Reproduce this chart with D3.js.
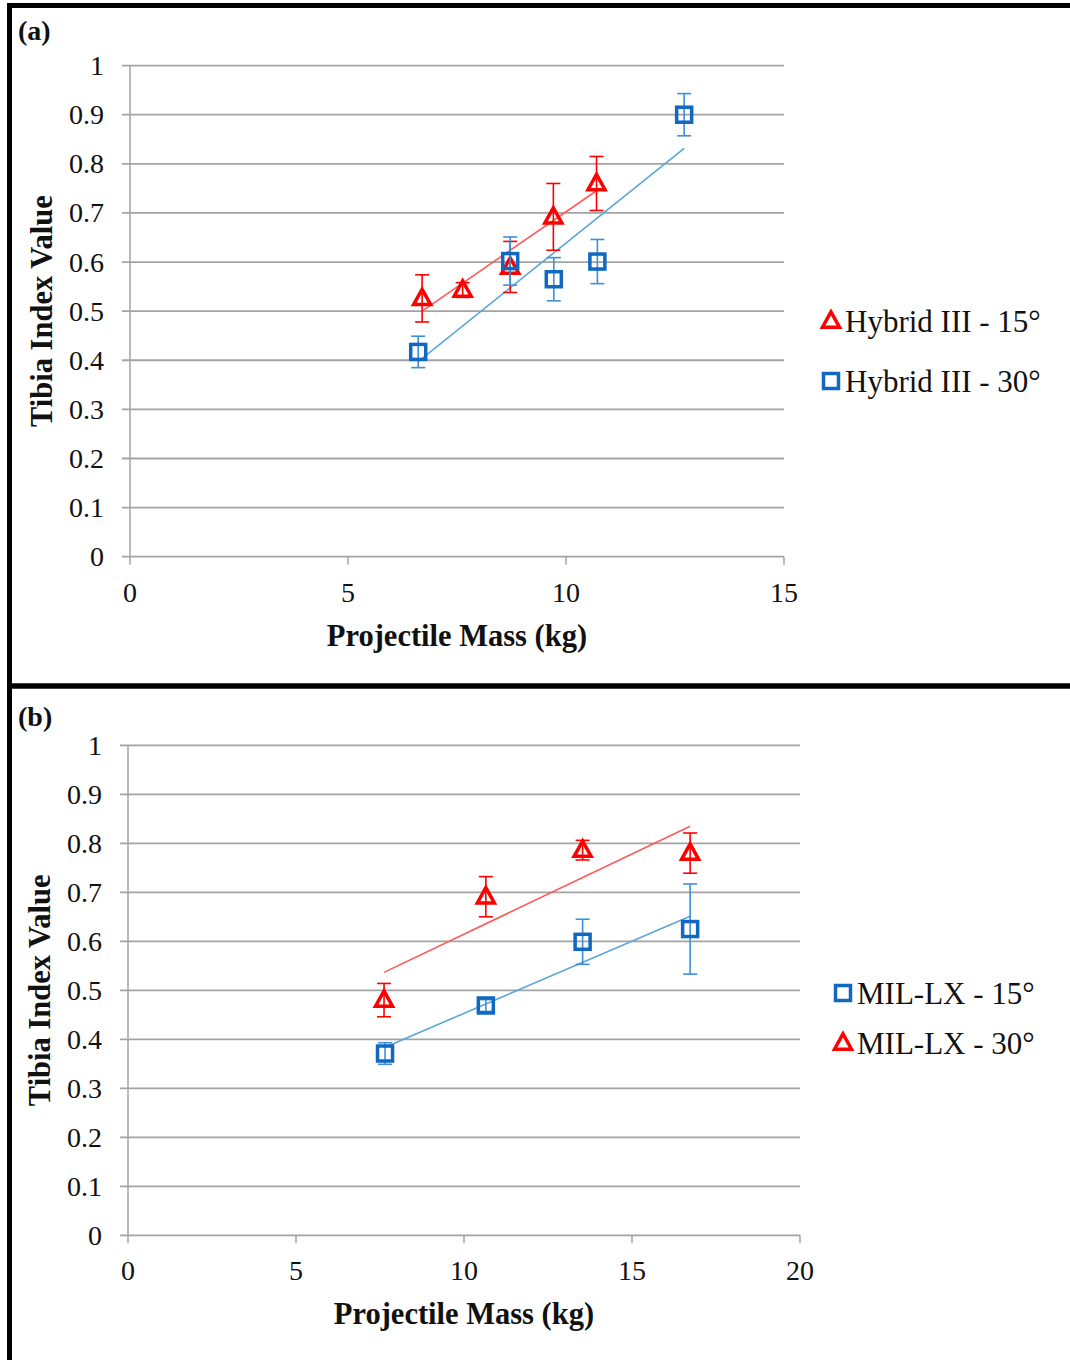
<!DOCTYPE html>
<html>
<head>
<meta charset="utf-8">
<script src="https://cdn.jsdelivr.net/npm/d3@7"></script>
<style>
  body { margin: 0; background: #fff; }
  svg { display: block; }
  text { font-family: "Liberation Serif", "Times New Roman", serif; fill: #111; }
</style>
</head>
<body>
<svg id="chart" width="1070" height="1360"></svg>
<script>
// Panel (a): Hybrid III leg
const massHybrid15 = [6.70, 7.63, 8.72, 9.71, 10.70];
const tibiaHybrid15 = [0.526, 0.543, 0.590, 0.692, 0.760];
const errHybrid15 = [0.048, 0.015, 0.052, 0.068, 0.055];

const massHybrid30 = [6.61, 8.72, 9.72, 10.72, 12.71];
const tibiaHybrid30 = [0.417, 0.602, 0.565, 0.601, 0.900];
const errHybrid30 = [0.032, 0.049, 0.044, 0.045, 0.043];

// Panel (b): MIL-LX leg
const massMil15 = [7.65, 10.65, 13.53, 16.73];
const tibiaMil15 = [0.371, 0.469, 0.599, 0.625];
const errMil15 = [0.022, 0.012, 0.046, 0.092];

const massMil30 = [7.62, 10.65, 13.53, 16.73];
const tibiaMil30 = [0.480, 0.691, 0.786, 0.780];
const errMil30 = [0.034, 0.041, 0.020, 0.041];

const yTicks = [0, 0.1, 0.2, 0.3, 0.4, 0.5, 0.6, 0.7, 0.8, 0.9, 1];
const xTicksA = [0, 5, 10, 15];
const xTicksB = [0, 5, 10, 15, 20];

const legendA = ["Hybrid III - 15°", "Hybrid III - 30°"];
const legendB = ["MIL-LX - 15°", "MIL-LX - 30°"];

const RED = "#ff0000", RED_TREND = "#ff5a5a";
const BLUE = "#1068c0", BLUE_ERR = "#3d8fd6", BLUE_TREND = "#5aa6dc";

const svg = d3.select("#chart");

// outer frame and divider between the two panels
svg.append("rect").attr("x", 9.5).attr("y", 5.5).attr("width", 1100).attr("height", 1400)
  .attr("fill", "none").attr("stroke", "#000").attr("stroke-width", 5);
svg.append("line").attr("x1", 9).attr("x2", 1070).attr("y1", 686).attr("y2", 686)
  .attr("stroke", "#000").attr("stroke-width", 5.5);

function zip(xs, ys, es) { return xs.map((x, i) => ({ x, y: ys[i], e: es[i] })); }

// least-squares trend line over the range of the series
function linearFit(pts) {
  const mx = d3.mean(pts, d => d.x), my = d3.mean(pts, d => d.y);
  const sxy = d3.sum(pts, d => (d.x - mx) * (d.y - my));
  const sxx = d3.sum(pts, d => (d.x - mx) ** 2);
  const b = sxy / sxx, a = my - b * mx;
  const [x0, x1] = d3.extent(pts, d => d.x);
  return [{ x: x0, y: a + b * x0 }, { x: x1, y: a + b * x1 }];
}

function drawMarker(g, shape, cx, cy, color) {
  if (shape === "square") {
    g.append("rect").attr("x", cx - 7.5).attr("y", cy - 7.5).attr("width", 15).attr("height", 15)
      .attr("fill", "none").attr("stroke", color).attr("stroke-width", 3.5);
  } else {
    const s = 17, h = s * Math.sqrt(3) / 2;
    g.append("path")
      .attr("d", `M${cx},${cy - h * 0.62}L${cx + s / 2},${cy + h * 0.42}L${cx - s / 2},${cy + h * 0.42}Z`)
      .attr("fill", "none").attr("stroke", color).attr("stroke-width", 3.5).attr("stroke-linejoin", "miter");
  }
}

function panel(cfg) {
  const x = d3.scaleLinear().domain(cfg.xDomain).range([cfg.left, cfg.right]);
  const y = d3.scaleLinear().domain([0, 1]).range([cfg.bottom, cfg.top]);
  const g = svg.append("g");

  // horizontal gridlines
  g.append("g").selectAll("line").data(yTicks).join("line")
    .attr("x1", cfg.left - 8).attr("x2", cfg.right)
    .attr("y1", d => y(d)).attr("y2", d => y(d))
    .attr("stroke", "#a3a3a3").attr("stroke-width", 1.8);

  // y axis line
  g.append("line").attr("x1", cfg.left).attr("x2", cfg.left)
    .attr("y1", cfg.top).attr("y2", cfg.bottom)
    .attr("stroke", "#a3a3a3").attr("stroke-width", 1.5);

  // x tick marks
  g.append("g").selectAll("line").data(cfg.xTicks).join("line")
    .attr("x1", d => x(d)).attr("x2", d => x(d))
    .attr("y1", cfg.bottom).attr("y2", cfg.bottom + 8)
    .attr("stroke", "#a3a3a3").attr("stroke-width", 1.5);

  // tick labels
  g.append("g").selectAll("text").data(yTicks).join("text")
    .attr("x", cfg.left - 26).attr("y", d => y(d)).attr("dy", "0.34em")
    .attr("text-anchor", "end").attr("font-size", 28)
    .text(d3.format("~g"));
  g.append("g").selectAll("text").data(cfg.xTicks).join("text")
    .attr("x", d => x(d)).attr("y", cfg.bottom + 45)
    .attr("text-anchor", "middle").attr("font-size", 28)
    .text(d => d);

  // axis titles
  g.append("text").attr("x", (cfg.left + cfg.right) / 2 + cfg.xTitleShift).attr("y", cfg.bottom + 89)
    .attr("text-anchor", "middle").attr("font-size", 30.5).attr("font-weight", "bold")
    .text("Projectile Mass (kg)");
  g.append("text")
    .attr("transform", `translate(${cfg.yTitleX},${(cfg.top + cfg.bottom) / 2}) rotate(-90)`)
    .attr("text-anchor", "middle").attr("font-size", 30.5).attr("font-weight", "bold")
    .text("Tibia Index Value");

  // panel letter
  g.append("text").attr("x", 18).attr("y", cfg.letterY)
    .attr("font-size", 28).attr("font-weight", "bold").attr("fill", "#1a1a3a")
    .text(cfg.letter);

  const line = d3.line().x(d => x(d.x)).y(d => y(d.y));

  cfg.series.forEach(s => {
    const pts = zip(s.mass, s.tibia, s.err);
    g.append("path").datum(linearFit(pts)).attr("d", line)
      .attr("fill", "none").attr("stroke", s.trend).attr("stroke-width", 1.6);
  });

  cfg.series.forEach(s => {
    const pts = zip(s.mass, s.tibia, s.err);
    const eg = g.append("g").attr("stroke", s.errColor).attr("stroke-width", 1.6);
    pts.forEach(p => {
      const px = x(p.x);
      eg.append("line").attr("x1", px).attr("x2", px).attr("y1", y(p.y - p.e)).attr("y2", y(p.y + p.e));
      eg.append("line").attr("x1", px - 7).attr("x2", px + 7).attr("y1", y(p.y - p.e)).attr("y2", y(p.y - p.e));
      eg.append("line").attr("x1", px - 7).attr("x2", px + 7).attr("y1", y(p.y + p.e)).attr("y2", y(p.y + p.e));
    });
    pts.forEach(p => drawMarker(g, s.shape, x(p.x), y(p.y), s.color));
  });

  // legend
  cfg.legend.forEach((l, i) => {
    const cy = cfg.legendY + i * cfg.legendGap;
    drawMarker(g, l.shape, cfg.legendX, cy, l.color);
    g.append("text").attr("x", cfg.legendX + 14).attr("y", cy).attr("dy", "0.35em")
      .attr("font-size", 31).text(l.label);
  });
}

panel({
  letter: "(a)", letterY: 40,
  xDomain: [0, 15], xTicks: xTicksA,
  left: 130, right: 784, top: 65.6, bottom: 556.7,
  yTitleX: 52, xTitleShift: 0,
  series: [
    { mass: massHybrid15, tibia: tibiaHybrid15, err: errHybrid15, shape: "triangle", color: RED, errColor: RED, trend: RED_TREND },
    { mass: massHybrid30, tibia: tibiaHybrid30, err: errHybrid30, shape: "square", color: BLUE, errColor: BLUE_ERR, trend: BLUE_TREND }
  ],
  legendX: 831, legendY: 321, legendGap: 60,
  legend: [
    { label: legendA[0], shape: "triangle", color: RED },
    { label: legendA[1], shape: "square", color: BLUE }
  ]
});

panel({
  letter: "(b)", letterY: 726,
  xDomain: [0, 20], xTicks: xTicksB,
  left: 128, right: 800, top: 745.3, bottom: 1235.3,
  yTitleX: 50, xTitleShift: 0,
  series: [
    { mass: massMil30, tibia: tibiaMil30, err: errMil30, shape: "triangle", color: RED, errColor: RED, trend: RED_TREND },
    { mass: massMil15, tibia: tibiaMil15, err: errMil15, shape: "square", color: BLUE, errColor: BLUE_ERR, trend: BLUE_TREND }
  ],
  legendX: 843, legendY: 993, legendGap: 50,
  legend: [
    { label: legendB[0], shape: "square", color: BLUE },
    { label: legendB[1], shape: "triangle", color: RED }
  ]
});
</script>
</body>
</html>
